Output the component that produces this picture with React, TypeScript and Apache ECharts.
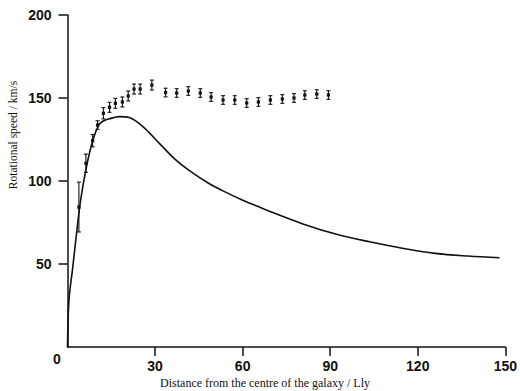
import React, { useEffect, useRef } from "react";
import * as echarts from "echarts";

// Observed rotational speeds (with error bars)
const pointX = [3.9, 6.3, 8.6, 10.3, 12.3, 14.4, 16.4, 18.8, 20.8, 22.8, 24.9, 28.9, 33.6, 37.4, 41.4, 45.5, 49.2, 53.3, 57.3, 61.4, 65.4, 69.5, 73.6, 77.6, 81.3, 85.4, 89.4];
const pointY = [84.3, 110.7, 124.3, 133.7, 140.8, 144.4, 146.8, 147.6, 151.2, 155.4, 155.4, 157.8, 153.3, 153.0, 154.2, 153.0, 150.6, 148.8, 148.8, 147.0, 147.6, 148.8, 149.4, 150.0, 151.8, 152.4, 151.8];
const pointErr = [15, 5.5, 3.7, 2.6, 3.4, 3, 3, 3, 3, 3, 3, 3, 2.6, 2.6, 2.6, 2.6, 2.6, 2.6, 2.6, 2.6, 2.6, 2.6, 2.6, 2.6, 2.6, 2.6, 2.6];

// Predicted curve (visible matter only)
const curveX = [0, 0.5, 1.8, 3.1, 4.5, 6.5, 8.7, 10.7, 12.1, 14.4, 17.8, 21.1, 24.5, 27.9, 31.3, 36.9, 42.5, 48.2, 53.8, 59.5, 65.1, 69.6, 80.9, 92.2, 103.4, 114.7, 126, 137.2, 148];
const curveY = [0, 28, 48, 68.5, 88.5, 108.6, 124.7, 133.7, 136, 137.5, 138.8, 138.2, 134.7, 129.3, 123.0, 113.0, 105.3, 98.8, 93.6, 88.9, 84.8, 81.5, 74.0, 67.9, 63.4, 59.5, 56.4, 54.8, 53.8];

const xTicks = [30, 60, 90, 120, 150];
const yTicks = [50, 100, 150, 200];

const xTitle = "Distance from the centre of the galaxy / Lly";
const yTitle = "Rotational speed / km/s";

const INK = "#111";

export default function App() {
  const ref = useRef<HTMLDivElement>(null);
  useEffect(() => {
    if (!ref.current) return;
    const chart = echarts.init(ref.current, null, { renderer: "svg" });
    const errData = pointX.map((x, i) => [x, pointY[i], pointErr[i]]);
    const lineData = curveX.map((x, i) => [x, curveY[i]]);
    const tickFont = { fontFamily: "Liberation Sans", fontSize: 14, fontWeight: "bold" as const, color: INK };
    chart.setOption({
      animation: false,
      backgroundColor: "#fff",
      grid: { left: 67.5, right: 9, top: 15, bottom: 44 },
      xAxis: {
        type: "value",
        min: 0,
        max: 150,
        interval: 30,
        splitLine: { show: false },
        axisLine: { show: true, onZero: false, lineStyle: { color: INK, width: 1.5 } },
        axisTick: { show: true, inside: false, length: 9, customValues: xTicks, lineStyle: { color: INK, width: 1.5 } },
        axisLabel: { ...tickFont, margin: 12, customValues: xTicks },
      },
      yAxis: {
        type: "value",
        min: 0,
        max: 200,
        interval: 50,
        splitLine: { show: false },
        axisLine: { show: true, onZero: false, lineStyle: { color: INK, width: 1.5 } },
        axisTick: { show: true, inside: false, length: 9, customValues: yTicks, lineStyle: { color: INK, width: 1.5 } },
        axisLabel: { ...tickFont, margin: 16, customValues: yTicks },
      },
      graphic: [
        {
          type: "text",
          x: 57,
          y: 359,
          style: { text: "0", font: "bold 14px 'Liberation Sans'", fill: INK, align: "center", verticalAlign: "middle" },
        },
        {
          type: "text",
          x: 265,
          y: 383,
          style: { text: xTitle, font: "12px 'Liberation Serif'", fill: INK, align: "center", verticalAlign: "middle" },
        },
        {
          type: "text",
          x: 13,
          y: 135,
          rotation: Math.PI / 2,
          style: { text: yTitle, font: "11.5px 'Liberation Serif'", fill: INK, align: "center", verticalAlign: "middle" },
        },
      ],
      series: [
        {
          type: "line",
          data: lineData,
          showSymbol: false,
          smooth: 0.35,
          lineStyle: { color: INK, width: 1.6 },
          z: 2,
        },
        {
          type: "custom",
          data: errData,
          z: 3,
          renderItem: (params: any, api: any) => {
            const x = api.value(0);
            const y = api.value(1);
            const e = api.value(2);
            const c = api.coord([x, y]);
            const t = api.coord([x, y + e]);
            const b = api.coord([x, y - e]);
            const hw = 2;
            const st = { stroke: INK, lineWidth: 1.1 };
            return {
              type: "group",
              children: [
                { type: "line", shape: { x1: c[0], y1: t[1], x2: c[0], y2: b[1] }, style: st },
                { type: "line", shape: { x1: c[0] - hw, y1: t[1], x2: c[0] + hw, y2: t[1] }, style: st },
                { type: "line", shape: { x1: c[0] - hw, y1: b[1], x2: c[0] + hw, y2: b[1] }, style: st },
                { type: "rect", shape: { x: c[0] - 1.6, y: c[1] - 1.6, width: 3.2, height: 3.2 }, style: { fill: INK } },
              ],
            };
          },
        },
      ],
    });
    return () => chart.dispose();
  }, []);
  return (
    <div
      ref={ref}
      style={{ position: "fixed", left: 0, top: 0, width: 520, height: 391, background: "#fff" }}
    />
  );
}
